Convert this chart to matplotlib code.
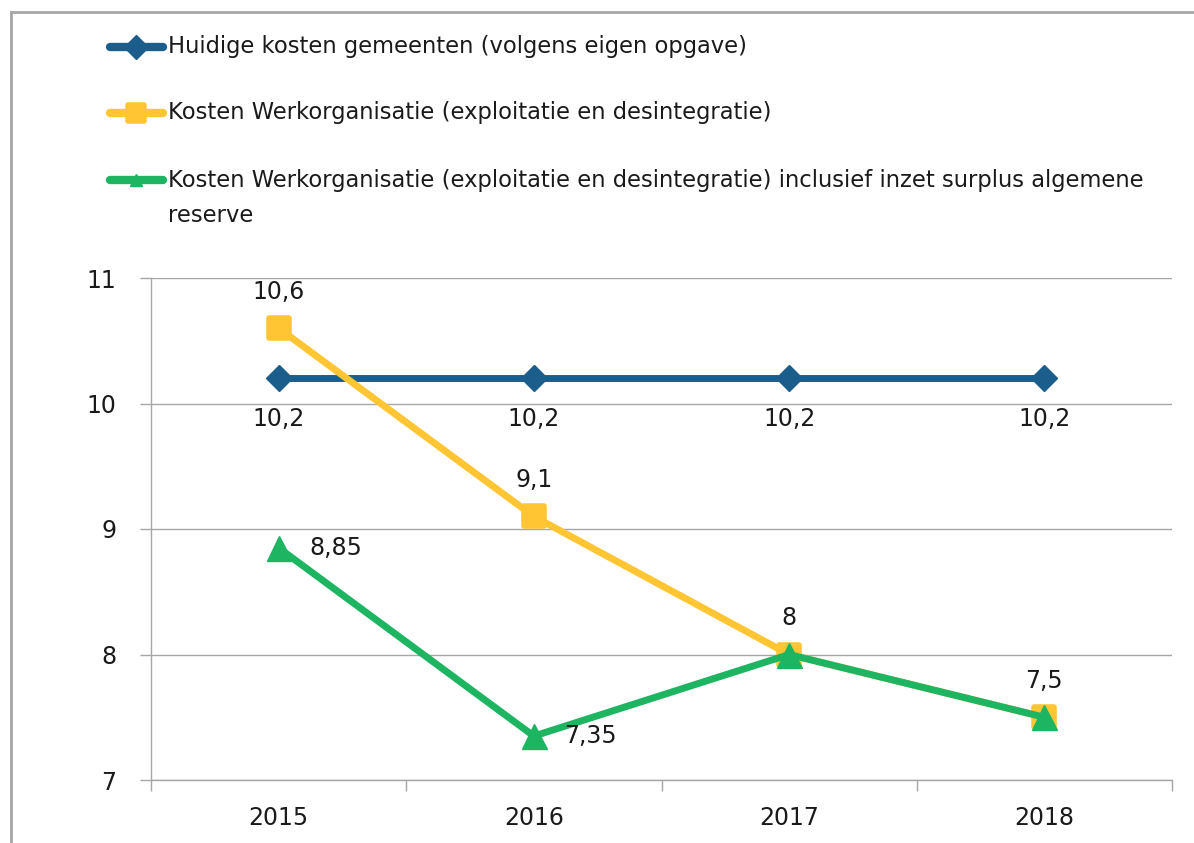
import matplotlib
matplotlib.use("Agg")
from matplotlib import pyplot as plt
from matplotlib.lines import Line2D
from matplotlib.markers import MarkerStyle

years = ["2015", "2016", "2017", "2018"]
huidig = [10.2, 10.2, 10.2, 10.2]
werk = [10.6, 9.1, 8.0, 7.5]
werk_res = [8.85, 7.35, 8.0, 7.5]
names = ["Huidige kosten gemeenten (volgens eigen opgave)",
         "Kosten Werkorganisatie (exploitatie en desintegratie)",
         "Kosten Werkorganisatie (exploitatie en desintegratie) inclusief inzet surplus algemene\nreserve"]
yticks = [7, 8, 9, 10, 11]

blue = "#1b5e8b"
yellow = "#ffc533"
green = "#1db462"
gray = "#a6a6a6"
txt = "#1a1a1a"

W, H = 1194, 843
plt.rcParams['font.family'] = ['DejaVu Sans']
fig = plt.figure(figsize=(W / 100, H / 100), dpi=100)
ax = fig.add_axes([151 / W, 1 - 780 / H, (1172 - 151) / W, (780 - 278) / H])

sq = MarkerStyle("s", joinstyle="round")
x = list(range(len(years)))
styles = [(huidig, blue, "D", 13, 1), (werk, yellow, sq, 15, 4), (werk_res, green, "^", 18, 1)]
for vals, c, m, ms, mew in styles:
    ax.plot(x, vals, color=c, lw=5, marker=m, ms=ms, mew=mew, mec=c, solid_capstyle="round")

def fmt(v):
    return ("%g" % v).replace(".", ",")

fs = 17
for i, v in enumerate(huidig):
    ax.annotate(fmt(v), (i, v), xytext=(0, -29), textcoords="offset points",
                ha="center", va="center", fontsize=fs, color=txt)
for i, v in enumerate(werk):
    ax.annotate(fmt(v), (i, v), xytext=(0, 26), textcoords="offset points",
                ha="center", va="center", fontsize=fs, color=txt)
for i in [0, 1]:
    ax.annotate(fmt(werk_res[i]), (i, werk_res[i]), xytext=(22, 0), textcoords="offset points",
                ha="left", va="center", fontsize=fs, color=txt)

ax.set_xlim(-0.5, len(years) - 0.5)
ax.set_ylim(7, 11)
ax.set_yticks(yticks)
ax.set_yticklabels([str(t) for t in yticks], fontsize=fs, color=txt)
ax.set_xticks(x)
ax.set_xticklabels(years, fontsize=fs, color=txt)
ax.set_xticks([i - 0.5 for i in range(len(years) + 1)], minor=True)
ax.tick_params(axis="x", which="major", length=0, pad=19)
ax.tick_params(axis="x", which="minor", length=8, color=gray, width=1, direction="out")
ax.tick_params(axis="y", length=8, color=gray, width=1, pad=17)
ax.yaxis.grid(True, color=gray, lw=1)
ax.set_axisbelow(True)
for s in ["top", "right"]:
    ax.spines[s].set_visible(False)
for s in ["left", "bottom"]:
    ax.spines[s].set_color(gray)
    ax.spines[s].set_linewidth(1)

# legend drawn by hand so the handle sits on the first text line
leg_y = [47, 113, 180]
leg_m = [("D", 12, 1), (sq, 12, 4), ("^", 9, 1)]
for (vals, c, _, _, _), (m, ms, mew), name, yy in zip(styles, leg_m, names, leg_y):
    fy = 1 - yy / H
    fig.add_artist(Line2D([110 / W, 163 / W], [fy, fy], color=c, lw=6, solid_capstyle="round"))
    fig.add_artist(Line2D([136 / W], [fy], color=c, marker=m, ms=ms, mew=mew, mec=c))
    for k, part in enumerate(name.split("\n")):
        fig.text(168 / W, 1 - (yy + 35 * k) / H, part, fontsize=16.3, color=txt,
                 va="center", ha="left")

fig.add_artist(Line2D([11 / W, 11 / W], [0, 1 - 12 / H], color=gray, lw=2))
fig.add_artist(Line2D([11 / W, 1], [1 - 12 / H, 1 - 12 / H], color=gray, lw=2))

fig.savefig("out.png", dpi=100)
